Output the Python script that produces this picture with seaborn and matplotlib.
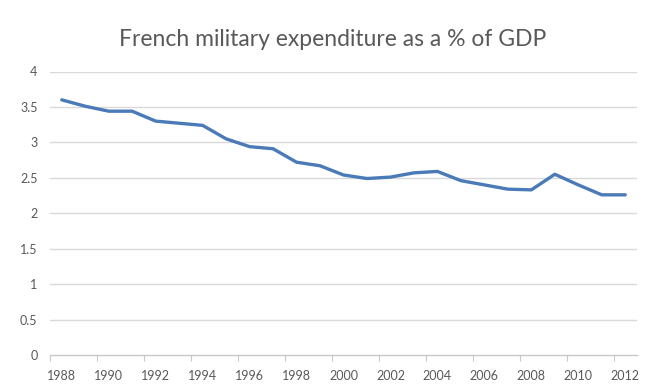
import matplotlib
matplotlib.use("Agg")
import matplotlib.pyplot as plt
import seaborn as sns
import pandas as pd

years = list(range(1988, 2013))
pct_gdp = [3.60, 3.51, 3.44, 3.44, 3.30, 3.27, 3.24, 3.05, 2.94, 2.91,
           2.72, 2.67, 2.54, 2.49, 2.51, 2.57, 2.59, 2.46, 2.40, 2.34,
           2.33, 2.55, 2.40, 2.26, 2.26]
y_ticks = [0, 0.5, 1, 1.5, 2, 2.5, 3, 3.5, 4]
y_tick_labels = ["0", "0.5", "1", "1.5", "2", "2.5", "3", "3.5", "4"]
x_label_years = list(range(1988, 2013, 2))
title = "French military expenditure as a % of GDP"

sns.set_theme(style="white")
plt.rcParams["font.family"] = ["Lato", "DejaVu Sans"]

df = pd.DataFrame({"year": years, "pct": pct_gdp})

fig = plt.figure(figsize=(6.46, 3.91), dpi=100)
ax = fig.add_axes([50 / 646, 1 - 355 / 391, 587 / 646, (355 - 71.5) / 391])

sns.lineplot(data=df, x="year", y="pct", ax=ax, color="#4A7BB8",
             linewidth=2.4, zorder=3)

ax.set_xlim(1987.5, 2012.5)
ax.set_ylim(0, 4)
ax.set_yticks(y_ticks)
ax.set_yticklabels(y_tick_labels)
ax.set_xticks(x_label_years)
ax.set_xticklabels([str(y) for y in x_label_years])
ax.set_xticks([y + 0.5 for y in range(1987, 2013, 2)], minor=True)

grid_color = "#D9D9D9"
for v in y_ticks[1:]:
    ax.axhline(v, color=grid_color, linewidth=1.0, zorder=1)

for side in ["top", "right", "left"]:
    ax.spines[side].set_visible(False)
ax.spines["bottom"].set_color("#C8C8C8")
ax.spines["bottom"].set_linewidth(1.0)

ax.tick_params(axis="y", which="both", length=0, pad=9,
               labelsize=9, labelcolor="#595959")
ax.tick_params(axis="x", which="major", length=0, pad=11,
               labelsize=9, labelcolor="#595959")
ax.tick_params(axis="x", which="minor", length=4, width=0.8,
               color="#C8C8C8", bottom=True)

ax.set_xlabel("")
ax.set_ylabel("")
ax.grid(False)

fig.text(0.515, 1 - 39 / 391, title, ha="center", va="center",
         fontsize=16.5, color="#595959")

fig.savefig("out.png", dpi=100, facecolor="white")
